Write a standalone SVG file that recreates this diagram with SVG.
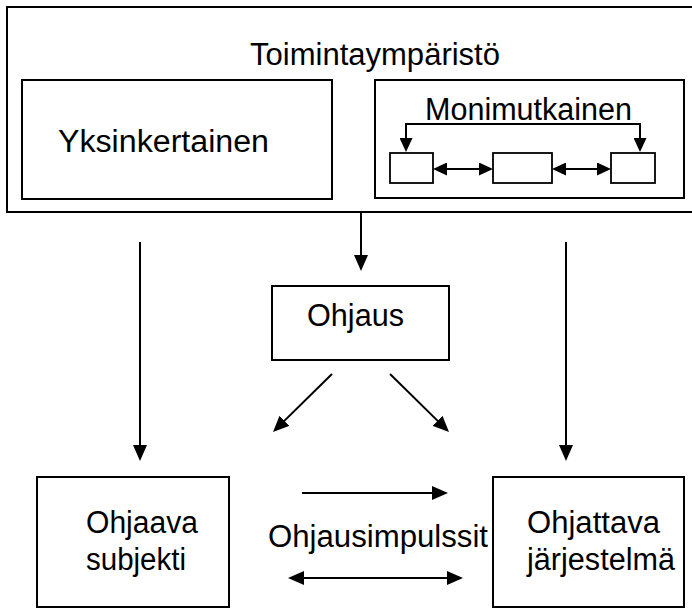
<svg xmlns="http://www.w3.org/2000/svg" width="692" height="610" viewBox="0 0 692 610">
<style>
.box{fill:#fff;stroke:#000;stroke-width:2}
.sbox{fill:#fff;stroke:#000;stroke-width:1.8}
.t{font-family:"Liberation Sans",Arial,sans-serif;font-size:31px;fill:#000}
.c{fill:none;stroke:#000;stroke-width:2}
</style>
<defs>
<marker id="ah" viewBox="0 0 16 14" refX="8" refY="7" markerWidth="16" markerHeight="14" markerUnits="userSpaceOnUse" orient="auto-start-reverse"><path d="M0,0 L16,7 L0,14 z" fill="#000"/></marker>
<marker id="ahs" viewBox="0 0 14 13" refX="7" refY="6.5" markerWidth="14" markerHeight="13" markerUnits="userSpaceOnUse" orient="auto-start-reverse"><path d="M0,0 L14,6.5 L0,13 z" fill="#000"/></marker>
</defs>
<g id="toimintaymparisto">
<rect class="box" x="7" y="7" width="700" height="205"/>
<text class="t" x="250" y="65" textLength="250" lengthAdjust="spacingAndGlyphs">Toimintaympäristö</text>
</g>
<g id="yksinkertainen">
<rect class="box" x="22" y="80" width="310" height="119"/>
<text class="t" x="58" y="152" textLength="211" lengthAdjust="spacingAndGlyphs">Yksinkertainen</text>
</g>
<g id="monimutkainen">
<rect class="box" x="375" y="80" width="309" height="118"/>
<text class="t" x="425" y="120" textLength="207" lengthAdjust="spacingAndGlyphs">Monimutkainen</text>
<rect class="sbox" x="390" y="153" width="43" height="30"/>
<rect class="sbox" x="493" y="153" width="59" height="30"/>
<rect class="sbox" x="611" y="153" width="44" height="30"/>
</g>
<g id="ohjaus">
<rect class="box" x="272" y="286" width="177" height="74"/>
<text class="t" x="307" y="326" textLength="97" lengthAdjust="spacingAndGlyphs">Ohjaus</text>
</g>
<g id="ohjaava">
<rect class="box" x="37" y="477" width="192" height="130"/>
<text class="t" x="86" y="533" textLength="112" lengthAdjust="spacingAndGlyphs">Ohjaava</text>
<text class="t" x="86" y="570" textLength="100" lengthAdjust="spacingAndGlyphs">subjekti</text>
</g>
<g id="ohjattava">
<rect class="box" x="493" y="477" width="191" height="130"/>
<text class="t" x="527" y="533" textLength="133" lengthAdjust="spacingAndGlyphs">Ohjattava</text>
<text class="t" x="527" y="570" textLength="148" lengthAdjust="spacingAndGlyphs">järjestelmä</text>
</g>
<g id="ohjausimpulssit">
<text class="t" x="268" y="547" textLength="220" lengthAdjust="spacingAndGlyphs">Ohjausimpulssit</text>
</g>
<g id="connectors">
<path class="c" d="M406,145 L406,124 L640,124 L640,145" marker-start="url(#ahs)" marker-end="url(#ahs)"/>
<line class="c" x1="440" y1="169" x2="486" y2="169" marker-start="url(#ahs)" marker-end="url(#ahs)"/>
<line class="c" x1="559" y1="169" x2="604" y2="169" marker-start="url(#ahs)" marker-end="url(#ahs)"/>
<line class="c" x1="361" y1="212" x2="361" y2="263" marker-end="url(#ah)"/>
<line class="c" x1="332" y1="374" x2="278.7" y2="426.4" marker-end="url(#ah)"/>
<line class="c" x1="390" y1="374" x2="443.3" y2="426.4" marker-end="url(#ah)"/>
<line class="c" x1="140" y1="242" x2="140" y2="453" marker-end="url(#ah)"/>
<line class="c" x1="566" y1="242" x2="566" y2="453" marker-end="url(#ah)"/>
<line class="c" x1="302" y1="493" x2="440" y2="493" marker-end="url(#ah)"/>
<line class="c" x1="296" y1="578" x2="455" y2="578" marker-start="url(#ah)" marker-end="url(#ah)"/>
</g>
</svg>
